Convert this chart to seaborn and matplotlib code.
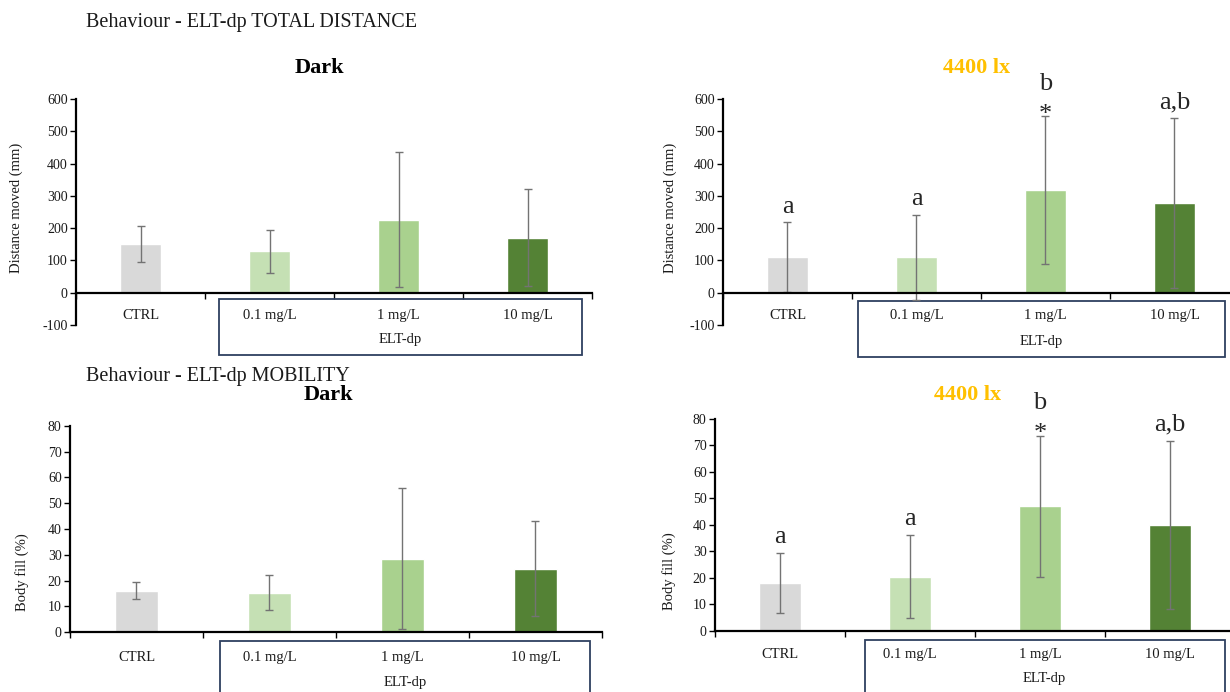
import matplotlib
matplotlib.use("Agg")
import matplotlib.pyplot as plt
import matplotlib.transforms as mtransforms
from matplotlib.patches import Rectangle
import seaborn as sns
import pandas as pd

groups = ["CTRL", "0.1 mg/L", "1 mg/L", "10 mg/L"]
bar_colors = ["#D9D9D9", "#C5E0B4", "#A9D18E", "#548235"]

# total distance (mm), mean and sd
dist_dark_mean = [152, 128, 226, 170]
dist_dark_sd = [56, 67, 209, 150]
dist_light_mean = [110, 110, 318, 278]
dist_light_sd = [108, 132, 228, 263]

# mobility, body fill (%)
mob_dark_mean = [16.1, 15.3, 28.5, 24.6]
mob_dark_sd = [3.2, 6.7, 27.3, 18.4]
mob_light_mean = [18.2, 20.5, 47.1, 40.0]
mob_light_sd = [11.4, 15.7, 26.6, 31.8]

light_letters = ["a", "a", "b", "a,b"]
light_stars = ["", "", "*", ""]

sns.set_theme(style="white")
plt.rcParams['font.family'] = ['Liberation Serif', 'DejaVu Serif']
plt.rcParams['axes.unicode_minus'] = False

ERR_COLOR = "#737373"
BOX_COLOR = "#2E4060"


def draw_panel(ax, means, sds, ylim, yticks, ylabel, label_xy, tick_pad,
               box_x, box_y, elt_y, spine_zero=False, letters=None, stars=None):
    df = pd.DataFrame({"group": groups, "value": means})
    sns.barplot(data=df, x="group", y="value", hue="group", palette=bar_colors,
                legend=False, width=0.32, errorbar=None, saturation=1, ax=ax)
    ax.errorbar(range(len(groups)), means, yerr=sds, fmt="none", ecolor=ERR_COLOR,
                elinewidth=1.0, capsize=3, capthick=1.0)

    ax.set_xlim(-0.5, 3.5)
    ax.set_ylim(*ylim)
    ax.set_yticks(yticks)
    ax.set_xlabel("")
    ax.set_ylabel(ylabel, fontsize=10.5, color="#1a1a1a")
    ax.yaxis.set_label_coords(*label_xy)

    for s in ["top", "right"]:
        ax.spines[s].set_visible(False)
    for s in ["left", "bottom"]:
        ax.spines[s].set_color("black")
        ax.spines[s].set_linewidth(1.6)
    if spine_zero:
        ax.spines["bottom"].set_position(("data", 0))

    ax.set_xticks(range(len(groups)))
    ax.set_xticklabels(groups)
    ax.set_xticks([-0.5, 0.5, 1.5, 2.5, 3.5], minor=True)
    ax.tick_params(axis="x", which="major", length=0, pad=tick_pad,
                   labelsize=10.5, labelcolor="#1a1a1a")
    ax.tick_params(axis="x", which="minor", length=4, width=1, direction="out",
                   color="black", bottom=True)
    ax.tick_params(axis="y", length=4, width=1, direction="out", color="black",
                   left=True, labelsize=10, labelcolor="#1a1a1a", pad=2)

    trans = mtransforms.blended_transform_factory(ax.transData, ax.transAxes)
    ax.add_patch(Rectangle((box_x[0], box_y[0]), box_x[1] - box_x[0], box_y[1] - box_y[0],
                           transform=trans, fill=False, edgecolor=BOX_COLOR,
                           linewidth=1.3, clip_on=False))
    ax.text((box_x[0] + box_x[1]) / 2, elt_y, "ELT-dp", transform=trans,
            ha="center", va="center", fontsize=10.5, color="#1a1a1a")

    if letters is not None:
        for i, (m, sd) in enumerate(zip(means, sds)):
            top = m + sd
            if stars[i]:
                ax.annotate(stars[i], (i, top), xytext=(0, -3), textcoords="offset points",
                            ha="center", va="baseline", fontsize=19, annotation_clip=False)
                ax.annotate(letters[i], (i, top), xytext=(0, 19), textcoords="offset points",
                            ha="center", va="baseline", fontsize=19, annotation_clip=False)
            else:
                ax.annotate(letters[i], (i, top), xytext=(0, 7), textcoords="offset points",
                            ha="center", va="baseline", fontsize=19, annotation_clip=False)


fig = plt.figure(figsize=(12.3, 6.92), dpi=100)

ax_tl = fig.add_axes([0.0618, 0.5303, 0.4195, 0.3266])
ax_tr = fig.add_axes([0.5878, 0.5303, 0.4195, 0.3266])
ax_bl = fig.add_axes([0.0569, 0.0867, 0.4325, 0.2977])
ax_br = fig.add_axes([0.5813, 0.0882, 0.4228, 0.3064])

draw_panel(ax_tl, dist_dark_mean, dist_dark_sd, (-100, 600), range(-100, 601, 100),
           "Distance moved (mm)", (-0.103, 0.52), 12, (0.61, 3.42), (-0.133, 0.115),
           -0.062, spine_zero=True)
draw_panel(ax_tr, dist_light_mean, dist_light_sd, (-100, 600), range(-100, 601, 100),
           "Distance moved (mm)", (-0.089, 0.52), 12, (0.55, 3.39), (-0.142, 0.105),
           -0.071, spine_zero=True, letters=light_letters, stars=light_stars)
draw_panel(ax_bl, mob_dark_mean, mob_dark_sd, (0, 80), range(0, 81, 10),
           "Body fill (%)", (-0.077, 0.29), 14, (0.63, 3.41), (-0.40, -0.045),
           -0.243)
draw_panel(ax_br, mob_light_mean, mob_light_sd, (0, 80), range(0, 81, 10),
           "Body fill (%)", (-0.075, 0.28), 12, (0.65, 3.42), (-0.40, -0.042),
           -0.222, letters=light_letters, stars=light_stars)

fig.text(86 / 1230, 1 - 22 / 692, "Behaviour - ELT-dp TOTAL DISTANCE",
         ha="left", va="center", fontsize=14.5, color="#1a1a1a")
fig.text(86 / 1230, 1 - 377 / 692, "Behaviour - ELT-dp MOBILITY",
         ha="left", va="center", fontsize=14.5, color="#1a1a1a")
fig.text(319 / 1230, 1 - 68 / 692, "Dark", ha="center", va="center",
         fontsize=16, fontweight="bold", color="black")
fig.text(977 / 1230, 1 - 68 / 692, "4400 lx", ha="center", va="center",
         fontsize=16, fontweight="bold", color="#FFC000")
fig.text(328 / 1230, 1 - 395 / 692, "Dark", ha="center", va="center",
         fontsize=16, fontweight="bold", color="black")
fig.text(968 / 1230, 1 - 395 / 692, "4400 lx", ha="center", va="center",
         fontsize=16, fontweight="bold", color="#FFC000")

fig.savefig("out.png", dpi=100)
